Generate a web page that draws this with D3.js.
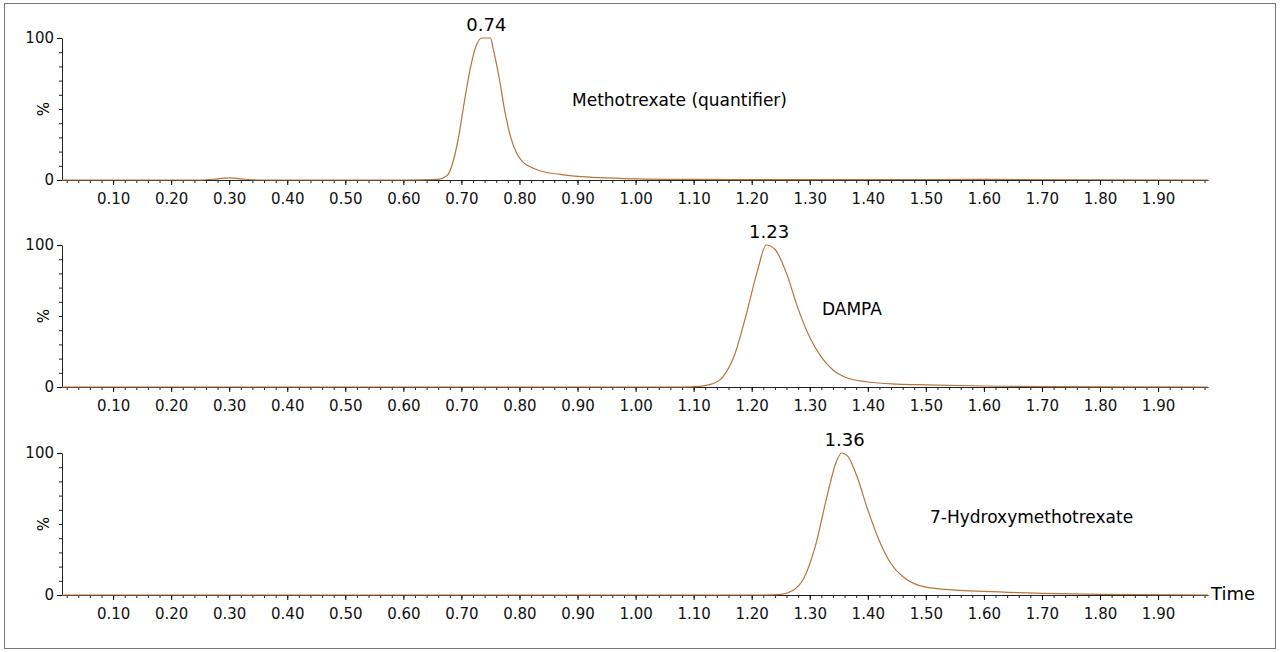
<!DOCTYPE html>
<html><head><meta charset="utf-8">
<script src="https://cdn.jsdelivr.net/npm/d3@7"></script>
<style>body{margin:0;background:#fff}text{font-family:Verdana,"DejaVu Sans",sans-serif}</style>
</head><body><svg id="c" width="1280" height="652"></svg>
<script>
const xTicks=[0.1,0.2,0.3,0.4,0.5,0.6,0.7,0.8,0.9,1.0,1.1,1.2,1.3,1.4,1.5,1.6,1.7,1.8,1.9];
const names=["Methotrexate (quantifier)","DAMPA","7-Hydroxymethotrexate"];
const peakLabels=["0.74","1.23","1.36"];
const s1t=[0.012,0.25,0.28,0.30,0.32,0.35,0.6,0.66,0.675,0.685,0.695,0.705,0.715,0.725,0.735,0.74,0.75,0.755,0.765,0.775,0.785,0.795,0.805,0.82,0.84,0.87,0.9,0.95,1.0,1.1,1.3,1.6,1.986];
const s1v=[0,0,0.8,1.5,0.8,0,0,0.5,3,12,30,55,78,94,100,100,100,92,72,48,30,19,13,9,6,4,2.5,1.5,0.8,0.4,0.2,0.4,0];
const s2t=[0.012,1.08,1.11,1.13,1.15,1.17,1.19,1.21,1.225,1.24,1.26,1.28,1.30,1.32,1.34,1.36,1.40,1.45,1.5,1.6,1.7,1.986];
const s2v=[0,0,0.5,2,7,22,50,82,100,97,80,55,35,21,12,7,3.5,2,1.5,0.7,0.2,0];
const s3t=[0.012,1.22,1.25,1.27,1.29,1.31,1.33,1.345,1.355,1.365,1.38,1.40,1.42,1.44,1.46,1.48,1.5,1.55,1.6,1.7,1.8,1.986];
const s3v=[0,0,0.5,3,12,35,70,93,100,98,85,60,38,22,13,8,5.5,3.5,2.5,1.2,0.5,0];
const series=[[s1t,s1v],[s2t,s2v],[s3t,s3v]];
const svg=d3.select("#c");
svg.append("rect").attr("x",4.5).attr("y",3.5).attr("width",1271).attr("height",645).attr("fill","none").attr("stroke","#777");
const x=d3.scaleLinear().domain([0.012,1.986]).range([62,1208]);
const zeros=[180,387,595];
zeros.forEach((y0,i)=>{
  const y=d3.scaleLinear().domain([0,100]).range([y0,y0-142]);
  const g=svg.append("g");
  g.append("g").attr("transform",`translate(0,${y0})`).call(d3.axisBottom(x).tickValues(d3.range(0.02,1.985,0.02)).tickSize(3).tickFormat(""))
    .call(a=>a.select(".domain").remove()).selectAll("line").attr("stroke","#222");
  const ax=g.append("g").attr("transform",`translate(0,${y0})`).call(d3.axisBottom(x).tickValues(xTicks).tickSize(5).tickSizeOuter(0).tickFormat(d3.format(".2f")));
  ax.selectAll("text").attr("font-size",15).attr("fill","#111").attr("dy","1.05em");
  ax.select(".domain").attr("stroke","#222");
  g.append("g").attr("transform",`translate(62,0)`).call(d3.axisLeft(y).tickValues(d3.range(0,101,10)).tickSize(3).tickFormat("")).call(a=>a.select(".domain").remove()).selectAll("line").attr("stroke","#222");
  const ay=g.append("g").attr("transform",`translate(62,0)`).call(d3.axisLeft(y).tickValues([0,100]).tickSize(5).tickSizeOuter(0));
  ay.selectAll("text").attr("font-size",15).attr("fill","#111");
  ay.select(".domain").attr("stroke","#222");
  g.append("text").attr("transform",`translate(49,${y(50)}) rotate(-90)`).attr("text-anchor","middle").attr("font-size",15).text("%");
  const [t,v]=series[i];
  const pts=t.map((d,k)=>[d,v[k]]);
  g.append("path").datum(pts).attr("fill","none").attr("stroke","#b8733a").attr("stroke-width",1.2)
   .attr("d",d3.line().x(d=>x(d[0])).y(d=>y(d[1])).curve(d3.curveMonotoneX));
  const pk=+peakLabels[i];
  g.append("text").attr("x",x(pk+(i==0?0.003:0))).attr("y",y(100)-7).attr("text-anchor","middle").attr("font-size",18).text(peakLabels[i]);
});
svg.append("text").attr("x",572).attr("y",106).attr("font-size",17).text(names[0]);
svg.append("text").attr("x",822).attr("y",315).attr("font-size",17).text(names[1]);
svg.append("text").attr("x",930).attr("y",523).attr("font-size",17).text(names[2]);
svg.append("text").attr("x",1211).attr("y",600).attr("font-size",18).text("Time");
</script></body></html>
